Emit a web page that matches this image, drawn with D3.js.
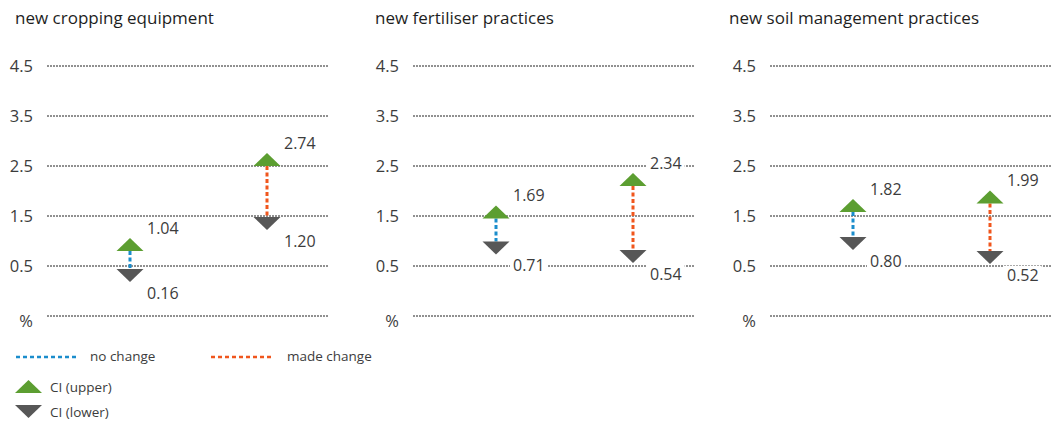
<!DOCTYPE html>
<html>
<head>
<meta charset="utf-8">
<script src="https://cdn.jsdelivr.net/npm/d3@7"></script>
<style>
  html, body { margin: 0; padding: 0; background: #fff; }
  svg { display: block; font-family: "Open Sans", "Noto Sans", sans-serif; }
</style>
</head>
<body>
<svg id="chart" width="1060" height="424"></svg>
<script>
// ---- data ----
const categories = ["new cropping equipment", "new fertiliser practices", "new soil management practices"];
const groups = ["no change", "made change"];
const noChangeUpper = [1.04, 1.69, 1.82];
const noChangeLower = [0.16, 0.71, 0.80];
const madeChangeUpper = [2.74, 2.34, 1.99];
const madeChangeLower = [1.20, 0.54, 0.52];
const tickValues = [4.5, 3.5, 2.5, 1.5, 0.5, -0.5];
const tickLabels = ["4.5", "3.5", "2.5", "1.5", "0.5", "%"];

// ---- layout ----
const panelLeft = [47, 413, 770];   // left edge of each plot area
const titleLeft = [15, 375, 729];
const plotW = 282;
const plotTop = 65, plotBottom = 315;
const triW = 27, triH = 13;
const colors = { "no change": "#1b8dcc", "made change": "#f0561d", upper: "#5c9e31", lower: "#575757" };
const textColor = "#3c3c3c";

const svg = d3.select("#chart");

const y = d3.scaleLinear().domain([-0.5, 4.5]).range([plotBottom, plotTop]);
const x = d3.scalePoint().domain(groups).range([83, 220]);

const upTri = (cx, tipY) => `M${cx},${tipY}L${cx + triW / 2},${tipY + triH}L${cx - triW / 2},${tipY + triH}Z`;
const downTri = (cx, tipY) => `M${cx},${tipY}L${cx + triW / 2},${tipY - triH}L${cx - triW / 2},${tipY - triH}Z`;

categories.forEach((cat, i) => {
  const g = svg.append("g").attr("transform", `translate(${panelLeft[i]},0)`);

  svg.append("text")
    .attr("x", titleLeft[i]).attr("y", 24)
    .attr("font-size", 17).attr("fill", "#1e1e1e")
    .text(cat);

  // gridlines + tick labels via a left axis
  const axis = d3.axisLeft(y)
    .tickValues(tickValues)
    .tickSize(-plotW)
    .tickPadding(14)
    .tickFormat((d, k) => tickLabels[k]);
  const ax = g.append("g").call(axis);
  ax.select(".domain").remove();
  ax.selectAll(".tick line")
    .attr("stroke", "#222").attr("stroke-width", 1).attr("stroke-dasharray", "2,1")
    .attr("transform", "translate(0,0.5)");
  ax.selectAll(".tick text")
    .attr("font-size", 16.5).attr("fill", textColor).attr("font-family", "'Open Sans', sans-serif")
    .attr("dy", (d) => d === -0.5 ? "0.7em" : "0.38em");

  const rows = [
    { grp: "no change", up: noChangeUpper[i], lo: noChangeLower[i] },
    { grp: "made change", up: madeChangeUpper[i], lo: madeChangeLower[i] }
  ];

  rows.forEach((r) => {
    const cx = x(r.grp);
    const yu = y(r.up), yl = y(r.lo);

    g.append("line")
      .attr("x1", cx).attr("x2", cx)
      .attr("y1", yu + triH).attr("y2", yl - triH)
      .attr("stroke", colors[r.grp]).attr("stroke-width", 3)
      .attr("stroke-dasharray", "4,2.5");

    g.append("path").attr("d", upTri(cx, yu)).attr("fill", colors.upper);
    g.append("path").attr("d", downTri(cx, yl)).attr("fill", colors.lower);

    // value labels
    [[r.up, yu - 10], [r.lo, yl + 11]].forEach(([v, ly]) => {
      const lbl = g.append("g");
      const t = lbl.append("text")
        .attr("x", cx + 17).attr("y", ly).attr("dy", "0.36em")
        .attr("font-size", 16).attr("fill", textColor)
        .text(d3.format(".2f")(v));
      const bb = t.node().getBBox();
      lbl.insert("rect", "text")
        .attr("x", bb.x - 3).attr("y", bb.y + 2)
        .attr("width", bb.width + 6).attr("height", bb.height - 4)
        .attr("fill", "#fff");
    });
  });
});

// ---- legend ----
const legend = svg.append("g");
const lineItems = [
  { grp: "no change", x0: 16, tx: 90 },
  { grp: "made change", x0: 211, tx: 287 }
];
lineItems.forEach((it) => {
  legend.append("line")
    .attr("x1", it.x0).attr("x2", it.x0 + 60).attr("y1", 357).attr("y2", 357)
    .attr("stroke", colors[it.grp]).attr("stroke-width", 2.5).attr("stroke-dasharray", "4,3");
  legend.append("text")
    .attr("x", it.tx).attr("y", 356).attr("dy", "0.36em")
    .attr("font-size", 13.5).attr("fill", textColor)
    .text(it.grp);
});
legend.append("path").attr("d", upTri(28.5, 380)).attr("fill", colors.upper);
legend.append("text").attr("x", 50).attr("y", 387).attr("dy", "0.36em")
  .attr("font-size", 13.5).attr("fill", textColor).text("CI (upper)");
legend.append("path").attr("d", downTri(28.5, 418)).attr("fill", colors.lower);
legend.append("text").attr("x", 50).attr("y", 412).attr("dy", "0.36em")
  .attr("font-size", 13.5).attr("fill", textColor).text("CI (lower)");
</script>
</body>
</html>
